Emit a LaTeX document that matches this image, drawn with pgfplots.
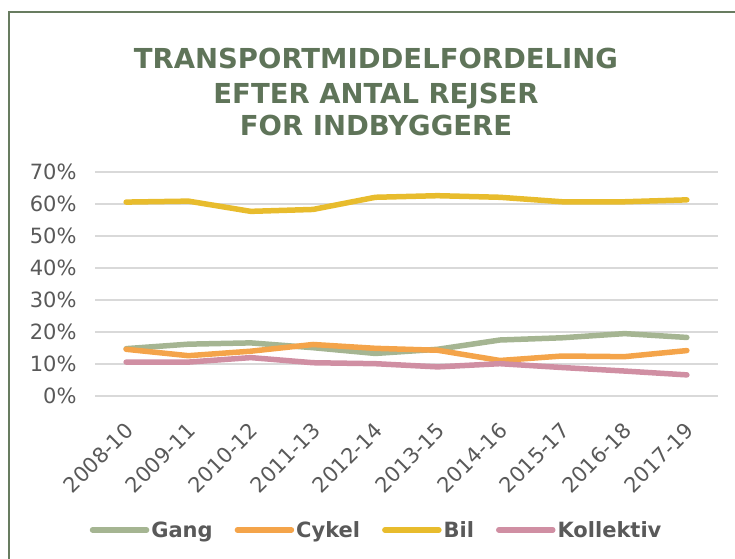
\documentclass[border=0pt]{standalone}
\usepackage{fontspec}
\setmainfont{DejaVu Sans}
\usepackage{pgfplots}
\pgfplotsset{compat=1.18}
\definecolor{cGang}{RGB}{165,181,146}
\definecolor{cCykel}{RGB}{244,164,74}
\definecolor{cBil}{RGB}{232,188,45}
\definecolor{cKoll}{RGB}{208,143,163}
\definecolor{txtgray}{RGB}{89,89,89}
\definecolor{gridgray}{RGB}{217,217,217}
\definecolor{titlegreen}{RGB}{95,116,89}
\definecolor{framegreen}{RGB}{104,124,96}
\begin{document}
\begin{tikzpicture}
\path[use as bounding box] (0pt,0pt) rectangle (735pt,558pt);
\draw[framegreen, line width=2.5pt] (9pt,-20pt) -- (9pt,546pt) -- (760pt,546pt);
\node[anchor=base, text=titlegreen, font=\fontsize{27.5}{31}\selectfont\bfseries] at (376pt,489pt) {TRANSPORTMIDDELFORDELING};
\node[anchor=base, text=titlegreen, font=\fontsize{27.5}{31}\selectfont\bfseries] at (376pt,454pt) {EFTER ANTAL REJSER};
\node[anchor=base, text=titlegreen, font=\fontsize{27.5}{31}\selectfont\bfseries] at (376pt,422pt) {FOR INDBYGGERE};
\begin{axis}[
  at={(95pt,162pt)}, anchor=south west,
  scale only axis, width=623pt, height=224pt,
  xmin=-0.5, xmax=9.5, ymin=0, ymax=70,
  ytick={0,10,20,30,40,50,60,70},
  yticklabels={0\%,10\%,20\%,30\%,40\%,50\%,60\%,70\%},
  xtick={0,1,2,3,4,5,6,7,8,9},
  xticklabels={2008-10,2009-11,2010-12,2011-13,2012-14,2013-15,2014-16,2015-17,2016-18,2017-19},
  ymajorgrids,
  grid style={draw=gridgray, line width=1.5pt},
  axis line style={draw=none},
  major tick style={draw=none},
  tick label style={text=txtgray, font=\fontsize{21}{25}\selectfont},
  yticklabel style={xshift=-15pt},
  xticklabel style={rotate=45, anchor=east, yshift=-24pt, xshift=-16pt},
  clip=false,
  legend columns=4,
  legend style={at={(0.452,-0.598)}, anchor=center, draw=none, fill=none,
    font=\fontsize{21}{24}\selectfont\bfseries, text=txtgray,
    /tikz/every even column/.append style={column sep=20pt}},
  legend image code/.code={\draw[#1, line width=5.5pt, line cap=round] (0pt,0pt) -- (54pt,0pt);},
  every axis plot/.append style={line width=5.5pt, line join=round, line cap=round, mark=none},
]
\addplot[cGang] coordinates {(0,14.8) (1,16.2) (2,16.6) (3,15.1) (4,13.3) (5,14.6) (6,17.5) (7,18.2) (8,19.5) (9,18.3)};
\addplot[cCykel] coordinates {(0,14.6) (1,12.6) (2,14.0) (3,16.1) (4,14.9) (5,14.3) (6,11.1) (7,12.5) (8,12.3) (9,14.2)};
\addplot[cBil] coordinates {(0,60.6) (1,60.9) (2,57.7) (3,58.3) (4,62.1) (5,62.6) (6,62.1) (7,60.7) (8,60.7) (9,61.3)};
\addplot[cKoll] coordinates {(0,10.6) (1,10.6) (2,12.0) (3,10.4) (4,10.1) (5,9.1) (6,10.1) (7,8.9) (8,7.8) (9,6.6)};
\legend{Gang,Cykel,Bil,Kollektiv}
\end{axis}
\end{tikzpicture}
\end{document}
